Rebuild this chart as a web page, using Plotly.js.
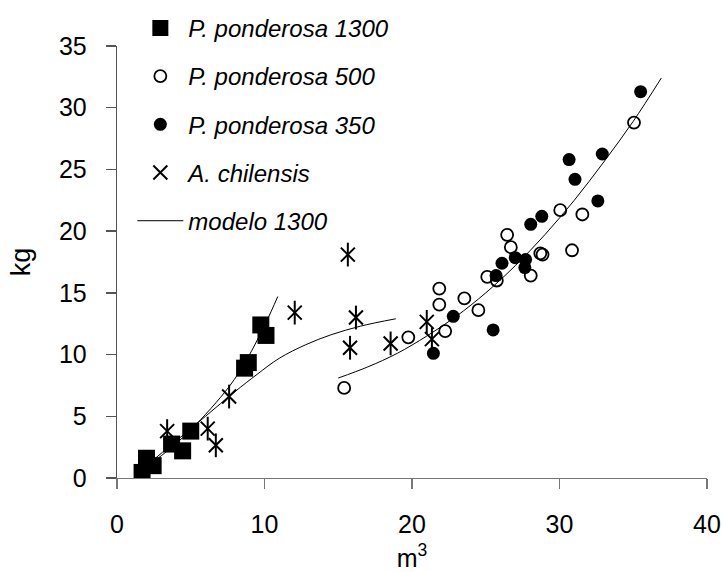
<!DOCTYPE html>
<html>
<head>
<meta charset="utf-8">
<script src="https://cdn.plot.ly/plotly-3.0.1.min.js"></script>
<style>html,body{margin:0;padding:0;background:#fff;}#chart{width:723px;height:572px;}</style>
</head>
<body>
<div id="chart"></div>
<script>
// P. ponderosa 1300 (squares)
const p1300_x = [1.7, 2.0, 2.45, 3.7, 4.45, 5.0, 8.65, 8.9, 9.75, 10.1];
const p1300_y = [0.45, 1.6, 1.0, 2.75, 2.2, 3.8, 8.9, 9.35, 12.4, 11.55];

// P. ponderosa 500 (open circles)
const p500_x = [15.4, 19.75, 21.85, 21.85, 22.25, 23.55, 24.5, 25.1, 25.75, 26.45, 26.7, 28.05, 28.7, 28.85, 30.05, 30.85, 31.55, 35.05];
const p500_y = [7.3, 11.4, 15.35, 14.05, 11.9, 14.55, 13.6, 16.3, 16.0, 19.7, 18.7, 16.4, 18.2, 18.1, 21.7, 18.45, 21.35, 28.8];

// P. ponderosa 350 (filled circles)
const p350_x = [21.45, 22.8, 25.5, 25.7, 26.1, 27.0, 27.7, 27.65, 28.05, 28.8, 30.65, 31.05, 32.9, 32.6, 35.5];
const p350_y = [10.1, 13.1, 12.0, 16.4, 17.4, 17.85, 17.7, 17.05, 20.55, 21.2, 25.8, 24.2, 26.25, 22.45, 31.3];

// A. chilensis (stars)
const chil_x = [3.4, 6.15, 6.7, 7.6, 12.05, 15.65, 16.2, 15.8, 18.55, 21.0, 21.35];
const chil_y = [3.8, 4.0, 2.65, 6.6, 13.4, 18.1, 13.0, 10.55, 10.9, 12.65, 11.25];

// modelo 1300 curve
const m1300_x = [1.5, 3, 5, 7.6, 8.8, 10.1, 10.9];
const m1300_y = [0.6, 1.8, 3.9, 7.4, 9.6, 12.6, 14.7];

// A. chilensis model curve
const mchil_x = [1.8, 4, 6, 8, 9.5, 11, 12.8, 14.5, 16.5, 18.9];
const mchil_y = [0.8, 3.0, 5.0, 7.0, 8.4, 9.7, 10.8, 11.6, 12.3, 12.9];

// P. ponderosa 500/350 model curve
const mpon_x = [15, 17, 19, 21, 23, 25, 27, 29, 31, 33, 35, 36.9];
const mpon_y = [8.1, 9.0, 10.1, 11.5, 13.1, 15.0, 17.2, 19.7, 22.5, 25.6, 28.9, 32.4];

const xTicks = [0, 10, 20, 30, 40];
const yTicks = [0, 5, 10, 15, 20, 25, 30, 35];

const FONT = "Liberation Sans, Arial, sans-serif";

const traces = [
  {x: p1300_x, y: p1300_y, type: 'scatter', mode: 'markers', name: '<i>P. ponderosa 1300</i>', legendgroup: 'a',
   marker: {symbol: 'square', size: 17, color: '#000'}},
  {x: p500_x, y: p500_y, type: 'scatter', mode: 'markers', name: '<i>P. ponderosa 500</i>', legendgroup: 'b',
   marker: {symbol: 'circle-open', size: 12, color: '#000', line: {width: 1.8, color: '#000'}}},
  {x: p350_x, y: p350_y, type: 'scatter', mode: 'markers', name: '<i>P. ponderosa 350</i>', legendgroup: 'c',
   marker: {symbol: 'circle', size: 13, color: '#000'}},
  {x: chil_x, y: chil_y, type: 'scatter', mode: 'markers', name: '<i>A. chilensis</i>', legendgroup: 'd',
   marker: {symbol: 'x-thin-open', size: 14, color: '#000', line: {width: 2, color: '#000'}}},
  {x: chil_x, y: chil_y, type: 'scatter', mode: 'markers', name: 'A. chilensis', legendgroup: 'd', showlegend: false,
   marker: {symbol: 'line-ns-open', size: 17, color: '#000', line: {width: 2, color: '#000'}}},
  {x: m1300_x, y: m1300_y, type: 'scatter', mode: 'lines', name: '<i>modelo 1300</i>', legendgroup: 'e',
   line: {color: '#000', width: 1, shape: 'spline'}},
  {x: mchil_x, y: mchil_y, type: 'scatter', mode: 'lines', name: 'modelo chilensis', showlegend: false, legendgroup: 'f',
   line: {color: '#000', width: 1, shape: 'spline'}},
  {x: mpon_x, y: mpon_y, type: 'scatter', mode: 'lines', name: 'modelo ponderosa', showlegend: false, legendgroup: 'g',
   line: {color: '#000', width: 1, shape: 'spline'}}
];

const layout = {
  width: 723, height: 572,
  margin: {l: 116.7, r: 15.9, t: 45.7, b: 94.4, autoexpand: false},
  paper_bgcolor: '#fff', plot_bgcolor: '#fff',
  font: {family: FONT, color: '#000'},
  showlegend: true,
  legend: {
    x: 0.026, y: 1.093, xanchor: 'left', yanchor: 'top',
    font: {family: FONT, size: 24, color: '#000'},
    bgcolor: 'rgba(0,0,0,0)', borderwidth: 0,
    itemwidth: 46, tracegroupgap: 14, traceorder: 'grouped'
  },
  xaxis: {
    range: [0, 40], tickvals: xTicks, ticktext: xTicks.map(String),
    showgrid: false, zeroline: false, showline: true, linecolor: '#777', linewidth: 1.3,
    ticks: 'outside', ticklen: 10, tickcolor: '#777', tickwidth: 1.3,
    tickfont: {family: FONT, size: 25, color: '#000'}, ticklabelstandoff: 14,
    title: {text: 'm<sup>3</sup>', font: {family: FONT, size: 25, color: '#000'}, standoff: 18},
    fixedrange: true
  },
  yaxis: {
    range: [0, 35], tickvals: yTicks, ticktext: yTicks.map(String),
    showgrid: false, zeroline: false, showline: true, linecolor: '#555', linewidth: 1.3,
    ticks: 'outside', ticklen: 10, tickcolor: '#555', tickwidth: 1.3,
    tickfont: {family: FONT, size: 25, color: '#000'}, ticklabelstandoff: 14,
    title: {text: 'kg', font: {family: FONT, size: 27, color: '#000'}, standoff: 20},
    fixedrange: true
  }
};

Plotly.newPlot('chart', traces, layout, {displayModeBar: false, staticPlot: true});
</script>
</body>
</html>
